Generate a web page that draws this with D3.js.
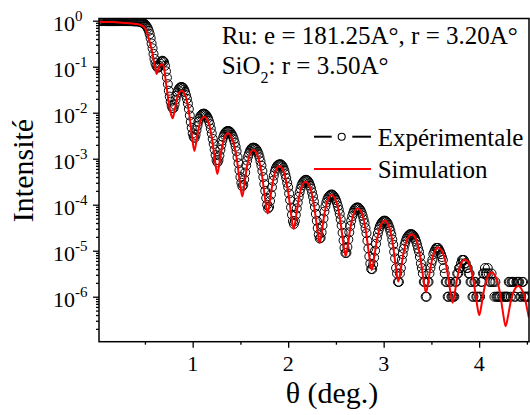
<!DOCTYPE html>
<html><head><meta charset="utf-8">
<script src="https://cdn.jsdelivr.net/npm/d3@7"></script>
<style>
html,body{margin:0;padding:0;background:#fff;}
svg{display:block;}
svg text{font-family:"Liberation Serif","Times New Roman",Times,"DejaVu Serif",serif;fill:#000;}
</style>
</head><body>
<svg id="chart" width="530" height="415" font-family="Liberation Serif, Times New Roman, Times, DejaVu Serif, serif"></svg>
<script>
// ---------- data ----------
const expTheta = [
0.02,0.03,0.04,0.05,0.06,0.07,0.08,0.09,0.10,0.11,
0.12,0.13,0.14,0.15,0.16,0.17,0.18,0.19,0.20,0.21,
0.22,0.23,0.24,0.25,0.26,0.27,0.28,0.29,0.30,0.31,
0.32,0.33,0.34,0.35,0.36,0.37,0.38,0.39,0.40,0.41,
0.42,0.43,0.44,0.45,0.46,0.47,0.48,0.49,0.50,0.51,
0.52,0.53,0.54,0.55,0.56,0.57,0.58,0.59,0.60,0.61,
0.62,0.63,0.64,0.65,0.66,0.67,0.68,0.69,0.70,0.71,
0.72,0.73,0.74,0.75,0.76,0.77,0.78,0.79,0.80,0.81,
0.82,0.83,0.84,0.85,0.86,0.87,0.88,0.89,0.90,0.91,
0.92,0.93,0.94,0.95,0.96,0.97,0.98,0.99,1.00,1.01,
1.02,1.03,1.04,1.05,1.06,1.07,1.08,1.09,1.10,1.11,
1.12,1.13,1.14,1.15,1.16,1.17,1.18,1.19,1.20,1.21,
1.22,1.23,1.24,1.25,1.26,1.27,1.28,1.29,1.30,1.31,
1.32,1.33,1.34,1.35,1.36,1.37,1.38,1.39,1.40,1.41,
1.42,1.43,1.44,1.45,1.46,1.47,1.48,1.49,1.50,1.51,
1.52,1.53,1.54,1.55,1.56,1.57,1.58,1.59,1.60,1.61,
1.62,1.63,1.64,1.65,1.66,1.67,1.68,1.69,1.70,1.71,
1.72,1.73,1.74,1.75,1.76,1.77,1.78,1.79,1.80,1.81,
1.82,1.83,1.84,1.85,1.86,1.87,1.88,1.89,1.90,1.91,
1.92,1.93,1.94,1.95,1.96,1.97,1.98,1.99,2.00,2.01,
2.02,2.03,2.04,2.05,2.06,2.07,2.08,2.09,2.10,2.11,
2.12,2.13,2.14,2.15,2.16,2.17,2.18,2.19,2.20,2.21,
2.22,2.23,2.24,2.25,2.26,2.27,2.28,2.29,2.30,2.31,
2.32,2.33,2.34,2.35,2.36,2.37,2.38,2.39,2.40,2.41,
2.42,2.43,2.44,2.45,2.46,2.47,2.48,2.49,2.50,2.51,
2.52,2.53,2.54,2.55,2.56,2.57,2.58,2.59,2.60,2.61,
2.62,2.63,2.64,2.65,2.66,2.67,2.68,2.69,2.70,2.71,
2.72,2.73,2.74,2.75,2.76,2.77,2.78,2.79,2.80,2.81,
2.82,2.83,2.84,2.85,2.86,2.87,2.88,2.89,2.90,2.91,
2.92,2.93,2.94,2.95,2.96,2.97,2.98,2.99,3.00,3.01,
3.02,3.03,3.04,3.05,3.06,3.07,3.08,3.09,3.10,3.11,
3.12,3.13,3.14,3.15,3.16,3.17,3.18,3.19,3.20,3.21,
3.22,3.23,3.24,3.25,3.26,3.27,3.28,3.29,3.30,3.31,
3.32,3.33,3.34,3.35,3.36,3.37,3.38,3.39,3.40,3.41,
3.42,3.43,3.44,3.45,3.46,3.47,3.48,3.49,3.50,3.51,
3.52,3.53,3.54,3.55,3.56,3.57,3.58,3.59,3.60,3.61,
3.62,3.63,3.64,3.65,3.66,3.67,3.68,3.69,3.70,3.71,
3.72,3.73,3.74,3.75,3.76,3.77,3.78,3.79,3.80,3.81,
3.82,3.83,3.84,3.85,3.86,3.87,3.88,3.89,3.90,3.91,
3.92,3.93,3.94,3.95,3.96,3.97,3.98,4.00,4.01,4.02,
4.03,4.04,4.05,4.06,4.07,4.08,4.09,4.10,4.11,4.12,
4.13,4.14,4.15,4.16,4.17,4.18,4.19,4.20,4.21,4.22,
4.24,4.26,4.27,4.28,4.29,4.30,4.31,4.32,4.33,4.34,
4.35,4.36,4.37,4.38,4.39,4.40,4.41,4.42,4.43,4.44,
4.45,4.46,4.47,4.48,4.49,4.50,4.51,4.52
];
const expIntensity = [
0.98,0.98,0.99,0.98,0.98,0.98,0.99,0.98,0.98,0.98,
0.98,0.98,0.98,0.98,0.98,0.98,0.98,0.98,0.98,0.98,
0.98,0.98,0.98,0.98,0.98,0.98,0.98,0.98,0.98,0.98,
0.98,0.98,0.98,0.98,0.98,0.98,0.97,0.97,0.97,0.97,
0.97,0.965,0.955,0.945,0.933,0.915,0.891,0.865,0.832,0.79,
0.741,0.68,0.603,0.51,0.417,0.32,0.251,0.19,0.148,0.12,
0.105,0.097,0.0955,0.105,0.117,0.128,0.135,0.133,0.126,0.105,
0.0794,0.058,0.0417,0.030,0.0224,0.0174,0.0141,0.0125,0.0126,0.0150,
0.0191,0.0234,0.0275,0.0309,0.0339,0.0355,0.0363,0.0360,0.0347,0.0318,
0.0282,0.0240,0.0200,0.0158,0.0120,0.0087,0.00631,0.0047,0.00355,0.0030,
0.00282,0.0033,0.00417,0.0052,0.00631,0.0074,0.00832,0.0089,0.00933,0.0095,
0.00955,0.0093,0.00891,0.0083,0.00759,0.0066,0.00562,0.0045,0.00355,0.0027,
0.00209,0.00158,0.0012,9.3e-4,8.32e-4,9.3e-4,0.00117,0.00155,0.0020,0.00248,
0.00295,0.00335,0.00363,0.00385,0.00398,0.0040,0.00398,0.00385,0.00363,0.00335,
0.00302,0.00263,0.00224,0.00182,0.00145,0.00108,7.94e-4,5.6e-4,3.98e-4,3.0e-4,
2.51e-4,2.7e-4,3.55e-4,5.0e-4,7.08e-4,9.1e-4,0.00112,0.0013,0.00148,0.0016,
0.0017,0.00173,0.00174,0.00171,0.00166,0.00155,0.00141,0.00125,0.00107,8.8e-4,
7.08e-4,5.4e-4,3.98e-4,2.8e-4,2.0e-4,1.4e-4,1.0e-4,8.3e-5,8.91e-5,1.2e-4,
1.66e-4,2.4e-4,3.31e-4,4.3e-4,5.25e-4,6.1e-4,6.76e-4,7.2e-4,7.41e-4,7.55e-4,
7.59e-4,7.35e-4,6.92e-4,6.3e-4,5.5e-4,4.6e-4,3.8e-4,3.0e-4,2.4e-4,1.75e-4,
1.26e-4,8.7e-5,6.03e-5,4.4e-5,3.8e-5,4.4e-5,6.03e-5,8.3e-5,1.12e-4,1.48e-4,
1.86e-4,2.25e-4,2.63e-4,2.93e-4,3.16e-4,3.35e-4,3.47e-4,3.47e-4,3.39e-4,3.2e-4,
2.95e-4,2.6e-4,2.24e-4,1.85e-4,1.51e-4,1.17e-4,8.91e-5,6.3e-5,4.47e-5,3.1e-5,
2.24e-5,1.85e-5,1.91e-5,2.5e-5,3.55e-5,5.0e-5,7.08e-5,9.2e-5,1.12e-4,1.3e-4,
1.45e-4,1.55e-4,1.62e-4,1.66e-4,1.66e-4,1.6e-4,1.51e-4,1.4e-4,1.26e-4,1.1e-4,
9.33e-5,7.8e-5,6.31e-5,4.8e-5,3.55e-5,2.45e-5,1.66e-5,1.15e-5,8.91e-6,9.0e-6,
1.2e-5,1.75e-5,2.51e-5,3.45e-5,4.47e-5,5.6e-5,6.61e-5,7.5e-5,8.13e-5,8.5e-5,
8.71e-5,8.7e-5,8.51e-5,8.0e-5,7.41e-5,6.6e-5,5.75e-5,4.8e-5,3.98e-5,3.1e-5,
2.4e-5,1.65e-5,1.12e-5,7.5e-6,5.25e-6,4.0e-6,3.98e-6,5.0e-6,7.08e-6,1.0e-5,
1.41e-5,1.9e-5,2.4e-5,2.9e-5,3.39e-5,3.75e-5,4.07e-5,4.3e-5,4.47e-5,4.5e-5,
4.47e-5,4.25e-5,3.98e-5,3.6e-5,3.16e-5,2.7e-5,2.24e-5,1.75e-5,1.35e-5,9.5e-6,
6.8e-6,4.2e-6,3.2e-6,2.1e-6,2.1e-6,3.2e-6,4.2e-6,6.3e-6,8.4e-6,1.1e-5,
1.35e-5,1.6e-5,1.82e-5,2.0e-5,2.14e-5,2.25e-5,2.29e-5,2.29e-5,2.24e-5,2.15e-5,
2.0e-5,1.8e-5,1.58e-5,1.35e-5,1.12e-5,9.5e-6,7.3e-6,5.3e-6,4.2e-6,3.2e-6,
2.1e-6,2.1e-6,1.0e-6,1.0e-6,2.1e-6,2.1e-6,3.2e-6,4.2e-6,5.3e-6,6.3e-6,
8.4e-6,9.5e-6,1.05e-5,1.15e-5,1.15e-5,1.15e-5,1.05e-5,9.5e-6,8.4e-6,7.3e-6,
6.3e-6,4.2e-6,3.2e-6,2.1e-6,2.1e-6,1.0e-6,1.0e-6,2.1e-6,2.1e-6,1.0e-6,
1.0e-6,1.0e-6,1.0e-6,2.1e-6,2.1e-6,3.2e-6,3.2e-6,4.2e-6,4.2e-6,5.3e-6,
6.3e-6,6.3e-6,6.3e-6,5.3e-6,5.3e-6,4.2e-6,4.2e-6,3.2e-6,3.2e-6,2.1e-6,
2.1e-6,1.0e-6,1.0e-6,2.1e-6,2.1e-6,1.0e-6,1.0e-6,1.0e-6,1.0e-6,2.1e-6,
2.1e-6,3.2e-6,3.2e-6,4.2e-6,3.2e-6,3.2e-6,4.2e-6,3.2e-6,2.1e-6,2.1e-6,
3.2e-6,2.1e-6,2.1e-6,1.0e-6,2.1e-6,1.0e-6,1.0e-6,1.0e-6,1.0e-6,1.0e-6,
1.0e-6,1.0e-6,1.0e-6,1.0e-6,1.0e-6,1.0e-6,2.1e-6,2.1e-6,1.0e-6,2.1e-6,
2.1e-6,2.1e-6,1.0e-6,1.0e-6,2.1e-6,2.1e-6,2.1e-6,2.1e-6,1.0e-6,1.0e-6,
2.1e-6,2.1e-6,1.0e-6,1.0e-6,1.0e-6,1.0e-6,1.0e-6,1.0e-6
];
const simTheta = [
0.02,0.15,0.30,0.40,0.45,0.48,0.50,0.52,0.535,0.555,
0.571,0.585,0.598,0.61,0.623,0.635,0.65,0.665,0.682,0.70,
0.72,0.74,0.762,0.78,0.791,0.81,0.829,0.847,0.866,0.885,
0.911,0.938,0.964,0.991,1.017,1.038,1.059,1.079,1.100,1.121,
1.148,1.176,1.203,1.231,1.258,1.280,1.303,1.325,1.348,1.370,
1.40,1.43,1.46,1.49,1.52,1.543,1.566,1.589,1.612,1.635,
1.665,1.695,1.725,1.755,1.785,1.809,1.834,1.858,1.883,1.907,
1.937,1.967,1.998,2.028,2.058,2.083,2.108,2.133,2.158,2.183,
2.212,2.242,2.271,2.301,2.330,2.355,2.380,2.405,2.430,2.455,
2.484,2.514,2.543,2.573,2.602,2.628,2.653,2.679,2.704,2.730,
2.759,2.788,2.816,2.845,2.874,2.902,2.929,2.957,2.984,3.012,
3.040,3.068,3.097,3.125,3.153,3.181,3.209,3.237,3.265,3.293,
3.323,3.353,3.383,3.413,3.443,3.469,3.495,3.520,3.546,3.572,
3.602,3.632,3.662,3.692,3.722,3.748,3.774,3.799,3.825,3.851,
3.881,3.911,3.941,3.971,4.001,4.027,4.053,4.079,4.105,4.131,
4.160,4.189,4.219,4.248,4.277,4.304,4.330,4.357,4.384,4.410,
4.44,4.47,4.50,4.52
];
const simIntensity = [
0.955,0.933,0.891,0.851,0.813,0.759,0.684,0.562,0.447,0.316,
0.229,0.166,0.117,0.0891,0.0692,0.0832,0.100,0.110,0.113,0.0955,
0.0447,0.0224,0.0115,0.00832,0.00759,0.0110,0.0176,0.0242,0.0286,0.0302,
0.0268,0.0186,0.00931,0.00334,0.00148,0.00234,0.00420,0.00622,0.00764,0.00818,
0.00729,0.00518,0.00268,0.00101,4.68e-4,8.09e-4,0.00161,0.00258,0.00329,0.00356,
0.00314,0.00215,0.00104,3.55e-4,1.51e-4,2.84e-4,6.25e-4,0.00107,0.00141,0.00155,
0.00136,9.31e-4,4.49e-4,1.52e-4,6.46e-5,1.22e-4,2.74e-4,4.73e-4,6.30e-4,6.92e-4,
6.10e-4,4.18e-4,2.02e-4,6.92e-5,2.95e-5,5.60e-5,1.25e-4,2.16e-4,2.88e-4,3.16e-4,
2.80e-4,1.94e-4,9.57e-5,3.38e-5,1.48e-5,2.82e-5,6.37e-5,1.11e-4,1.47e-4,1.62e-4,
1.44e-4,9.93e-5,4.91e-5,1.73e-5,7.59e-6,1.45e-5,3.27e-5,5.68e-5,7.55e-5,8.32e-5,
7.35e-5,5.08e-5,2.49e-5,8.75e-6,3.80e-6,7.40e-6,1.71e-5,3.01e-5,4.05e-5,4.47e-5,
3.95e-5,2.75e-5,1.36e-5,4.85e-6,2.14e-6,4.06e-6,9.08e-6,1.57e-5,2.08e-5,2.29e-5,
2.04e-5,1.44e-5,7.33e-6,2.71e-6,1.23e-6,2.26e-6,4.88e-6,8.18e-6,1.07e-5,1.17e-5,
1.05e-5,7.55e-6,4.00e-6,1.56e-6,7.41e-7,1.33e-6,2.77e-6,4.57e-6,5.92e-6,6.46e-6,
5.78e-6,4.13e-6,2.18e-6,8.45e-7,3.98e-7,7.10e-7,1.47e-6,2.40e-6,3.11e-6,3.39e-6,
3.04e-6,2.20e-6,1.19e-6,4.74e-7,2.29e-7,3.94e-7,7.78e-7,1.23e-6,1.57e-6,1.70e-6,
1.51e-6,1.10e-6,5.75e-7,3.55e-7
];
const xDomain = [0.019, 4.522];
const yDomain = [1.052e-7, 1.117];
const xTickValues = [1, 2, 3, 4];
const xTickLabels = ["1", "2", "3", "4"];
const xMinorTickValues = [0.5, 1.5, 2.5, 3.5, 4.5];
const yTickExponents = [0, -1, -2, -3, -4, -5, -6];
const seriesNames = ["Expérimentale", "Simulation"];
const xTitle = "θ (deg.)";
const yTitle = "Intensité";
const noteLine1 = "Ru: e = 181.25A°, r = 3.20A°";
const noteLine2 = ["SiO", "2", ": r = 3.50A°"];

// ---------- layout ----------
const FONT = "Liberation Serif, Times New Roman, Times, DejaVu Serif, serif";
const svg = d3.select("#chart");
const P = {left: 99, right: 529, top: 18.5, bottom: 341.7};
const x = d3.scaleLinear().domain(xDomain).range([P.left, P.right]);
const y = d3.scaleLog().domain(yDomain).range([P.bottom, P.top]);

svg.append("rect").attr("width", 530).attr("height", 415).attr("fill", "#fff");

svg.append("defs").append("clipPath").attr("id", "plotclip")
  .append("rect").attr("x", P.left).attr("y", P.top)
  .attr("width", P.right - P.left).attr("height", P.bottom - P.top);

const plot = svg.append("g").attr("clip-path", "url(#plotclip)");

const expData = expTheta.map((t, i) => ({t: t, v: expIntensity[i]}));
plot.append("g").selectAll("circle").data(expData).join("circle")
  .attr("cx", d => x(d.t)).attr("cy", d => y(d.v)).attr("r", 4.5)
  .attr("fill", "none").attr("stroke", "#000").attr("stroke-width", 1.0);

const simData = simTheta.map((t, i) => ({t: t, v: simIntensity[i]}));
plot.append("path").datum(simData)
  .attr("fill", "none").attr("stroke", "#ff0000").attr("stroke-width", 2)
  .attr("stroke-linejoin", "round")
  .attr("d", d3.line().x(d => x(d.t)).y(d => y(d.v)).curve(d3.curveMonotoneX));

// ---------- axes ----------
function styleAxis(g) {
  g.select(".domain").remove();
  g.selectAll(".tick line").attr("stroke", "#000").attr("stroke-width", 1.3);
  g.selectAll(".tick text").remove();
}
svg.append("g").attr("transform", `translate(0,${P.bottom})`)
  .call(d3.axisBottom(x).tickValues(xTickValues).tickSize(6).tickSizeOuter(0))
  .call(styleAxis);
svg.append("g").attr("transform", `translate(0,${P.bottom})`)
  .call(d3.axisBottom(x).tickValues(xMinorTickValues).tickSize(3).tickSizeOuter(0))
  .call(styleAxis);

const yMajors = yTickExponents.map(e => Math.pow(10, e));
const yMinors = y.ticks(20).filter(v => {
  const l = Math.log10(v);
  return Math.abs(l - Math.round(l)) > 1e-6;
});
svg.append("g").attr("transform", `translate(${P.left},0)`)
  .call(d3.axisLeft(y).tickValues(yMajors).tickSize(6).tickSizeOuter(0))
  .call(styleAxis);
svg.append("g").attr("transform", `translate(${P.left},0)`)
  .call(d3.axisLeft(y).tickValues(yMinors).tickSize(3).tickSizeOuter(0))
  .call(styleAxis);

// frame
svg.append("rect").attr("x", P.left).attr("y", P.top)
  .attr("width", P.right - P.left).attr("height", P.bottom - P.top)
  .attr("fill", "none").attr("stroke", "#000").attr("stroke-width", 1.5);

function txt(sel) { return sel.attr("font-family", FONT).attr("fill", "#000"); }

// tick labels
xTickValues.forEach((v, i) => {
  svg.append("text").call(txt).attr("x", x(v)).attr("y", 370.7)
    .attr("text-anchor", "middle").attr("font-size", 22).text(xTickLabels[i]);
});
yTickExponents.forEach(e => {
  const t = svg.append("text").call(txt).attr("x", 53).attr("y", y(Math.pow(10, e)) + 10)
    .attr("font-size", 22);
  t.append("tspan").text("10");
  t.append("tspan").attr("font-size", 15).attr("dy", -9.5).text(String(e));
});

// axis titles
svg.append("text").call(txt).attr("x", 332).attr("y", 403)
  .attr("text-anchor", "middle").attr("font-size", 30).text(xTitle);
svg.append("text").call(txt).attr("transform", "translate(33,170.5) rotate(-90)")
  .attr("text-anchor", "middle").attr("font-size", 30).text(yTitle);

// annotations
svg.append("text").call(txt).attr("x", 221.7).attr("y", 44).attr("font-size", 25).text(noteLine1);
const n2 = svg.append("text").call(txt).attr("x", 221.7).attr("y", 74).attr("font-size", 25);
n2.append("tspan").text(noteLine2[0]);
n2.append("tspan").attr("font-size", 16).attr("dy", 9).text(noteLine2[1]);
n2.append("tspan").attr("dy", -9).text(noteLine2[2]);

// legend
const lg = svg.append("g");
lg.append("line").attr("x1", 314).attr("x2", 331.7).attr("y1", 136.7).attr("y2", 136.7)
  .attr("stroke", "#000").attr("stroke-width", 2);
lg.append("line").attr("x1", 352.3).attr("x2", 371).attr("y1", 136.7).attr("y2", 136.7)
  .attr("stroke", "#000").attr("stroke-width", 2);
lg.append("circle").attr("cx", 341.7).attr("cy", 136.7).attr("r", 3.5)
  .attr("fill", "none").attr("stroke", "#000").attr("stroke-width", 1.1);
lg.append("text").call(txt).attr("x", 377.7).attr("y", 146).attr("font-size", 25).text(seriesNames[0]);
lg.append("line").attr("x1", 314).attr("x2", 371).attr("y1", 169).attr("y2", 169)
  .attr("stroke", "#ff0000").attr("stroke-width", 2);
lg.append("text").call(txt).attr("x", 377.7).attr("y", 177.5).attr("font-size", 25).text(seriesNames[1]);
</script>
</body></html>
